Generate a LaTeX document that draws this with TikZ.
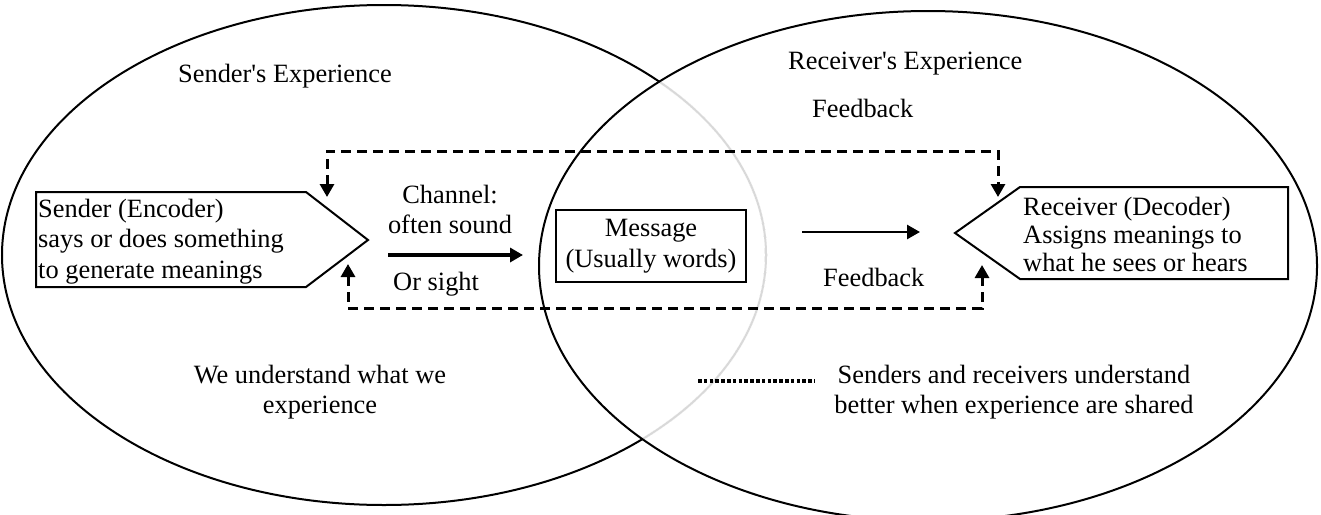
\documentclass[tikz,border=0pt]{standalone}
\usepackage{fontspec}
\setmainfont{Liberation Serif}
\usetikzlibrary{arrows.meta}
% stacked lines whose baseline is the first line's baseline
\newcommand\leftlines[1]{\vtop{\halign{##\hfil\cr#1\crcr}}}
\newcommand\midlines[1]{\vtop{\halign{\hfil##\hfil\cr#1\crcr}}}
\tikzset{
  lbl/.style={inner sep=0pt, font=\fontsize{26.4}{30.5}\selectfont},
  ring/.style={line width=2pt},
  pentline/.style={line width=2pt, line join=miter},
  fb/.style={line width=3pt, dash pattern=on 10pt off 6pt, {Triangle[length=13pt,width=14pt]}-{Triangle[length=13pt,width=14pt]}},
  flowthick/.style={line width=4pt, -{Triangle[length=13pt,width=14pt]}},
  flowthin/.style={line width=2.7pt, -{Triangle[length=13pt,width=14pt]}},
  msgbox/.style={draw, line width=2.5pt, inner sep=0pt, minimum width=190pt, minimum height=72pt, font=\fontsize{26.4}{31}\selectfont},
  shared/.style={line width=3.6pt, dash pattern=on 3.6pt off 2.2pt},
}
\begin{document}
\begin{tikzpicture}[x=1pt, y=-1pt]
  \useasboundingbox (0,0) rectangle (1321,514);
  \fill[white] (0,0) rectangle (1321,514);

  % two overlapping fields of experience
  \coordinate (sfield) at (384,255);
  \coordinate (rfield) at (928,266);
  \draw[ring] (sfield) ellipse [x radius=382pt, y radius=250pt];
  \begin{scope}
    \clip (rfield) ellipse [x radius=389pt, y radius=255pt];
    \draw[line width=3.2pt, white] (sfield) ellipse [x radius=382pt, y radius=250pt];
    \draw[line width=2pt, black!15] (sfield) ellipse [x radius=382pt, y radius=250pt];
  \end{scope}
  \draw[ring] (rfield) ellipse [x radius=389pt, y radius=255pt];

  % field titles
  \node[lbl, anchor=base] (sexp) at (285,82) {Sender\textquotesingle s Experience};
  \node[lbl, anchor=base west] (rexp) at (788,69) {Receiver\textquotesingle s Experience};
  \node[lbl, anchor=base west] (fbtop) at (812,117) {Feedback};

  % sender
  \draw[pentline] (36,192) -- (306,192) -- (368,240) -- (306,287) -- (36,287) -- cycle;
  \node[lbl, anchor=base west] (sender) at (38,217)
    {\leftlines{Sender (Encoder)\cr says or does something\cr to generate meanings}};

  % receiver
  \draw[pentline] (1288,187) -- (1020,187) -- (955,233) -- (1020,279) -- (1288,279) -- cycle;
  \node[lbl, anchor=base west, font=\fontsize{26.4}{28}\selectfont] (receiver) at (1023,215)
    {\leftlines{Receiver (Decoder)\cr Assigns meanings to\cr what he sees or hears}};

  % channel
  \node[lbl, anchor=base] (channel) at (450,203) {\midlines{Channel:\cr often sound}};
  \node[lbl, anchor=base west] (sight) at (393,290) {Or sight};
  \coordinate (chanA) at (388,255);
  \coordinate (chanB) at (523,255);
  \draw[flowthick] (chanA) -- (chanB);

  % message
  \node[msgbox] (message) at (651,246) {\midlines{Message\cr(Usually words)}};
  \coordinate (msgA) at (802,232);
  \coordinate (msgB) at (920,232);
  \draw[flowthin] (msgA) -- (msgB);

  % feedback loops
  \node[lbl, anchor=base west] (fbbot) at (823,286) {Feedback};
  \coordinate (sTopIn) at (327,197);
  \coordinate (rTopIn) at (998,197);
  \coordinate (topRail) at (0,151);
  \coordinate (sBotIn) at (348,264);
  \coordinate (rBotIn) at (982,265);
  \coordinate (botRail) at (0,308);
  \draw[fb] (sTopIn) -- (sTopIn |- topRail) -| (rTopIn);
  \draw[fb] (sBotIn) -- (sBotIn |- botRail) -| (rBotIn);

  % understanding
  \node[lbl, anchor=base] (weund) at (320,383) {\midlines{We understand what we\cr experience}};
  \coordinate (dotA) at (698,381);
  \coordinate (dotB) at (815,381);
  \draw[shared] (dotA) -- (dotB);
  \node[lbl, anchor=base] (sharedtxt) at (1014,383)
    {\midlines{Senders and receivers understand\cr better when experience are shared}};
\end{tikzpicture}
\end{document}
